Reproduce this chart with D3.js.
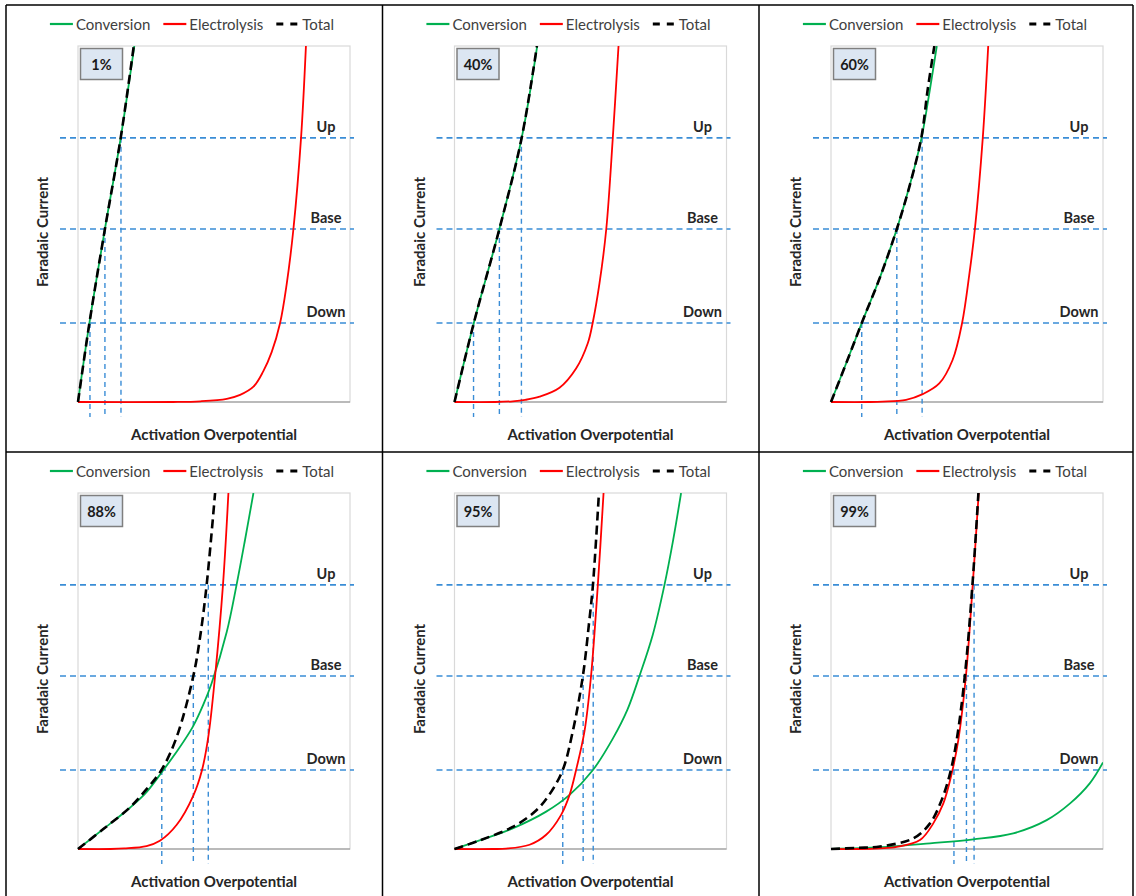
<!DOCTYPE html>
<html>
<head>
<meta charset="utf-8">
<script src="https://cdn.jsdelivr.net/npm/d3@7"></script>
<style>
  body { margin: 0; background: #fff; }
  svg { display: block; font-family: Lato, "Open Sans", sans-serif; }
</style>
</head>
<body>
<div id="chart"></div>
<script>
// panel labels (share of conversion current)
const panels = ["1%", "40%", "60%", "88%", "95%", "99%"];

// operating levels on the current axis (0..100 of plot height)
const levelNames = ["Down", "Base", "Up"];
const levelValues = [22.2, 48.6, 74.2];

const seriesNames = ["Conversion", "Electrolysis", "Total"];

// [overpotential, current] points, both on a 0..100 scale
const conversion = [
  [[0, 0], [4.2, 22.2], [9.9, 48.6], [15.7, 74.2], [20.7, 100]],
  [[0, 0], [7.1, 22.2], [16.5, 48.6], [24.7, 74.2], [30.4, 100]],
  [[0, 0], [5.8, 11.3], [11.3, 22.2], [18, 35.0], [24.2, 48.6], [29, 61], [33.3, 74.2], [36.3, 87.5], [38.9, 100]],
  [[0, 0], [9.3, 5.6], [19.1, 11.6], [25.2, 16.0], [31.4, 22.2], [36.9, 28.0], [42.4, 34.6], [46.1, 40.6], [49.1, 46.5], [54.7, 61.0], [58.3, 74.2], [61.4, 86.8], [64.5, 100]],
  [[0, 0], [9.2, 2.4], [21.4, 5.8], [33.7, 10.5], [42.3, 15.2], [50.9, 22.2], [58.2, 31.0], [63.5, 39.0], [68.0, 48.6], [72.9, 60.2], [77.2, 74.2], [80.3, 86.4], [83.3, 100]],
  [[0, 0], [18, 0.5], [36.4, 1.6], [52.3, 2.7], [67, 4.4], [79.3, 8.1], [87.9, 12.8], [95.2, 18.5], [100, 24.3]]
];

const electrolysis = [
  [[0, 0], [35, 0], [45, 0.2], [54.7, 0.9], [59.6, 2.0], [64.5, 4.3], [68.1, 8.6], [71.2, 14.0], [74.3, 22.2], [76.7, 33.0], [79.2, 48.6], [82.0, 74.2], [83.8, 100]],
  [[0, 0], [15, 0], [21.4, 0.2], [26, 0.6], [31.3, 1.5], [38.6, 4.0], [44.7, 9.4], [49, 16.5], [50.8, 22.2], [53.3, 33.3], [55.8, 48.6], [58.2, 74.2], [60.3, 100]],
  [[0, 0], [14, 0], [19, 0.1], [27.6, 0.6], [33.7, 2.2], [39.8, 5.2], [44.7, 11.8], [48.2, 22.2], [50.9, 36.1], [52.9, 48.6], [55.8, 74.2], [57.8, 100]],
  [[0, 0], [12, 0], [17, 0.15], [25.2, 0.8], [30.1, 2.3], [36.3, 6.8], [42.4, 15.0], [45.6, 22.2], [47.9, 31.5], [50.4, 48.6], [53.3, 74.2], [55.3, 100]],
  [[0, 0], [14, 0], [19, 0.1], [27.6, 1.2], [33.7, 4.0], [39.2, 9.6], [42.3, 15.2], [44.7, 22.2], [47.8, 33.1], [50.2, 48.6], [52.7, 74.2], [54.8, 100]],
  [[0, 0], [10, 0], [18, 0.2], [24.2, 0.6], [32.7, 2.5], [37.6, 7.2], [41.3, 12.8], [44.4, 21.3], [46.8, 30.6], [49.6, 48.6], [52.1, 74.2], [54.3, 100]]
];

const total = [
  [[0, 0], [4.2, 22.2], [9.9, 48.6], [15.7, 74.2], [20.5, 100]],
  [[0, 0], [7.1, 22.2], [16.5, 48.6], [24.7, 74.2], [30.3, 100]],
  [[0, 0], [5.8, 11.3], [11.3, 22.2], [18, 35.0], [24.2, 48.6], [29, 61], [33.2, 74.2], [35.5, 87.5], [38.0, 100]],
  [[0, 0], [9.3, 5.6], [19.1, 11.7], [25.2, 16.8], [30.7, 22.2], [36.3, 31.5], [42.4, 48.6], [44.9, 59.6], [47.3, 74.2], [50.4, 100]],
  [[0, 0], [9.2, 2.4], [21.4, 6.2], [30.0, 10.8], [34.9, 15.3], [39.8, 22.2], [43.5, 33.1], [47.2, 48.6], [49.4, 63.0], [50.9, 74.2], [53.1, 100]],
  [[0, 0], [9.2, 0.3], [18, 0.7], [30.3, 3.0], [36.4, 7.2], [40.7, 13.8], [43.8, 21.3], [46.2, 30.6], [49.2, 48.6], [52.0, 74.2], [54.2, 100]]
];

// overpotential where Total meets Down / Base / Up
const crossings = [
  [4.4, 9.9, 15.8],
  [7.0, 16.5, 24.6],
  [11.3, 24.2, 33.5],
  [30.8, 42.4, 47.9],
  [39.8, 47.3, 51.0],
  [45.2, 49.8, 52.6]
];

const W = 1136, H = 896;
const cellW = 376.5, cellH = 447;
const cell0 = { x: 6, y: 5 };
const plot = { left: 72, top: 41, w: 272, h: 356 };

const colors = { Conversion: "#00b050", Electrolysis: "#ff0000", Total: "#000000" };
const levelColor = "#3a8dd6";

const svg = d3.select("#chart").append("svg").attr("width", W).attr("height", H);
svg.append("rect").attr("width", W).attr("height", H).attr("fill", "#fff");

const defs = svg.append("defs");
defs.append("clipPath").attr("id", "plot-clip")
  .append("rect").attr("x", -2).attr("y", 0).attr("width", plot.w + 2).attr("height", plot.h + 2);

const x = d3.scaleLinear().domain([0, 100]).range([0, plot.w]);
const y = d3.scaleLinear().domain([0, 100]).range([plot.h, 0]);

const line = d3.line()
  .x((d) => x(d[0]))
  .y((d) => y(d[1]))
  .curve(d3.curveCatmullRom.alpha(0.5));

panels.forEach((label, i) => {
  const col = i % 3, row = Math.floor(i / 3);
  const cx = cell0.x + col * cellW, cy = cell0.y + row * cellH;
  const cell = svg.append("g").attr("transform", `translate(${cx},${cy})`);

  // Legend
  const leg = cell.append("g");
  let lx = 0;
  seriesNames.forEach((name) => {
    const it = leg.append("g").attr("transform", `translate(${lx},0)`);
    it.append("line")
      .attr("x1", 0).attr("x2", 23).attr("y1", 0).attr("y2", 0)
      .attr("stroke", colors[name])
      .attr("stroke-width", name === "Total" ? 3 : 2.2)
      .attr("stroke-dasharray", name === "Total" ? "7,7" : null);
    const t = it.append("text")
      .attr("x", 26).attr("y", 5.5)
      .attr("font-size", 15)
      .attr("fill", "#404040")
      .text(name);
    lx += 26 + t.node().getComputedTextLength() + 13;
  });
  const legW = lx - 13;
  leg.attr("transform", `translate(${186 - legW / 2},19)`);

  const g = cell.append("g").attr("transform", `translate(${plot.left},${plot.top})`);

  // plot area frame
  g.append("rect")
    .attr("width", plot.w).attr("height", plot.h)
    .attr("fill", "#fff").attr("stroke", "#d9d9d9").attr("stroke-width", 1.2);
  g.append("line")
    .attr("x1", 0).attr("x2", plot.w).attr("y1", y(0)).attr("y2", y(0))
    .attr("stroke", "#8c8c8c").attr("stroke-width", 1.2);

  // level lines
  g.selectAll(".level")
    .data(levelValues)
    .enter()
    .append("line")
    .attr("class", "level")
    .attr("x1", -18).attr("x2", plot.w + 4)
    .attr("y1", (d) => y(d)).attr("y2", (d) => y(d))
    .attr("stroke", levelColor).attr("stroke-width", 1.6)
    .attr("stroke-dasharray", "6,4");

  // drop lines from Total to the axis
  g.selectAll(".drop")
    .data(crossings[i].map((c, k) => [c, levelValues[k]]))
    .enter()
    .append("line")
    .attr("class", "drop")
    .attr("x1", (d) => x(d[0])).attr("x2", (d) => x(d[0]))
    .attr("y1", (d) => y(d[1])).attr("y2", plot.h + 15)
    .attr("stroke", levelColor).attr("stroke-width", 1.4)
    .attr("stroke-dasharray", "5,4");

  // curves
  const curveData = [
    { name: "Conversion", pts: conversion[i] },
    { name: "Electrolysis", pts: electrolysis[i] },
    { name: "Total", pts: total[i] }
  ];
  g.append("g")
    .attr("clip-path", "url(#plot-clip)")
    .selectAll(".curve")
    .data(curveData)
    .enter()
    .append("path")
    .attr("class", "curve")
    .attr("d", (d) => line(d.pts))
    .attr("fill", "none")
    .attr("stroke", (d) => colors[d.name])
    .attr("stroke-width", (d) => (d.name === "Total" ? 2.6 : 1.8))
    .attr("stroke-dasharray", (d) => (d.name === "Total" ? "9,5" : null));

  // level labels
  g.selectAll(".levelLabel")
    .data(levelNames)
    .enter()
    .append("text")
    .attr("class", "levelLabel")
    .attr("x", plot.w - 24)
    .attr("y", (d, k) => y(levelValues[k]) - 6)
    .attr("text-anchor", "middle")
    .attr("font-size", 14.5).attr("font-weight", "bold")
    .attr("fill", "#262626")
    .text((d) => d);

  // percentage box
  g.append("rect")
    .attr("x", 2.5).attr("y", 2.5).attr("width", 42).attr("height", 31)
    .attr("fill", "#dce6f2").attr("stroke", "#7f7f7f").attr("stroke-width", 1.5);
  g.append("text")
    .attr("x", 23.5).attr("y", 23.5)
    .attr("text-anchor", "middle")
    .attr("font-size", 14.5).attr("font-weight", "bold")
    .attr("fill", "#1a1a1a")
    .text(label);

  // axis titles
  g.append("text")
    .attr("x", plot.w / 2).attr("y", plot.h + 38)
    .attr("text-anchor", "middle")
    .attr("font-size", 15).attr("font-weight", "bold")
    .attr("fill", "#262626")
    .text("Activation Overpotential");
  g.append("text")
    .attr("transform", `translate(-30,${plot.h / 2 + 8}) rotate(-90)`)
    .attr("text-anchor", "middle")
    .attr("font-size", 15).attr("font-weight", "bold")
    .attr("fill", "#262626")
    .text("Faradaic Current");
});

// table grid
const grid = svg.append("g").attr("stroke", "#000").attr("stroke-width", 1.5);
[6, 382.5, 759, 1133].forEach((gx) => {
  grid.append("line").attr("x1", gx).attr("x2", gx).attr("y1", 5).attr("y2", H);
});
[5, 452].forEach((gy) => {
  grid.append("line").attr("x1", 6).attr("x2", 1133).attr("y1", gy).attr("y2", gy);
});
</script>
</body>
</html>
